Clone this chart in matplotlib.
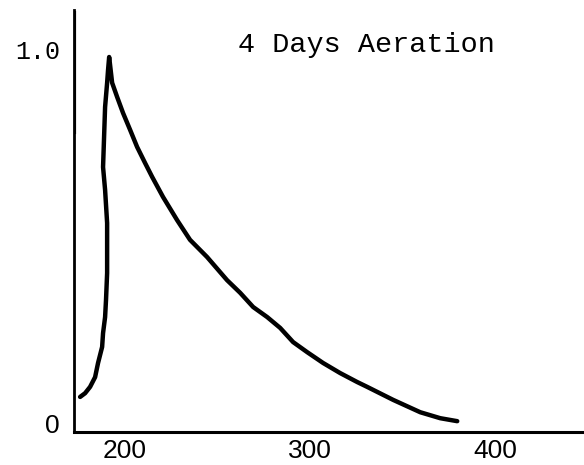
import matplotlib
matplotlib.use("Agg")
import matplotlib.pyplot as plt
import numpy as np

# curve (time vs relative response)
time = [175.7, 178.4, 181.1, 183.8, 185.4, 187.6, 188.1, 189.2, 189.7, 190.3,
        190.3, 189.2, 188.1, 188.6, 189.2, 190.3, 190.8, 191.4,
        193.0, 195.7, 198.9, 202.7, 206.5, 210.8, 214.6, 220.5, 228.1, 235.1,
        244.3, 255.1, 262.2, 269.2, 276.8, 283.8, 290.8, 298.4, 307.0, 316.2,
        325.4, 330.8, 344.9, 359.5, 370.3, 379.5]
response = [0.070, 0.080, 0.097, 0.123, 0.161, 0.204, 0.241, 0.284, 0.330, 0.402,
            0.536, 0.625, 0.686, 0.759, 0.847, 0.912, 0.946, 0.981,
            0.912, 0.874, 0.831, 0.786, 0.740, 0.697, 0.660, 0.606, 0.544, 0.491,
            0.445, 0.383, 0.349, 0.311, 0.284, 0.255, 0.217, 0.190, 0.161, 0.134,
            0.110, 0.097, 0.062, 0.029, 0.013, 0.005]

# the thick trace running up the y axis at the start
start_time = [172.6, 172.6]
start_response = [0.78, 1.10]

xticks = [200, 300, 400]
yticks = [0, 1.0]
ytick_labels = ["0", "1.0"]
title = "4 Days Aeration"

fig = plt.figure(figsize=(5.84, 4.65), dpi=100)
ax = fig.add_axes([74 / 584, 33 / 465, 1 - 74 / 584, 422 / 465])

ax.plot(time, response, color="black", lw=3.2, solid_capstyle="round",
        solid_joinstyle="round")
ax.plot(start_time, start_response, color="black", lw=3.0)

ax.set_xlim(172.4, 448)
ax.set_ylim(-0.024, 1.107)

ax.spines["top"].set_visible(False)
ax.spines["right"].set_visible(False)
ax.spines["left"].set_linewidth(2.0)
ax.spines["bottom"].set_linewidth(2.2)

ax.set_xticks(xticks)
ax.set_xticklabels([str(t) for t in xticks])
ax.set_yticks(yticks)
ax.set_yticklabels(ytick_labels)
ax.tick_params(axis="x", length=0, pad=5)
ax.tick_params(axis="y", length=0, pad=10)

narrow = ["Liberation Sans Narrow", "Liberation Sans"]
for lab in ax.get_xticklabels():
    lab.set_fontfamily(narrow)
    lab.set_fontsize(19)
ylabs = ax.get_yticklabels()
ylabs[0].set_fontfamily(narrow)
ylabs[0].set_fontsize(19)
ylabs[1].set_fontfamily("Liberation Mono")
ylabs[1].set_fontsize(18)

fig.text(238 / 584, 1 - 45 / 465, title, fontfamily="Liberation Mono",
         fontsize=20.5, va="center", ha="left")

fig.savefig("out.png", dpi=100)
